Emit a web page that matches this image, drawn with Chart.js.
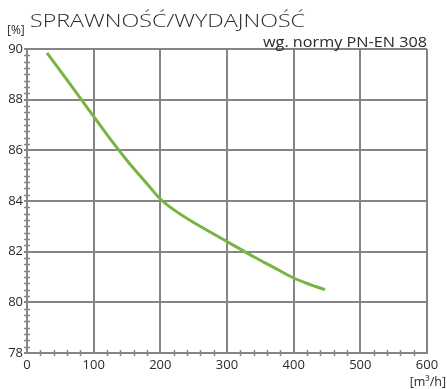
<!DOCTYPE html>
<html>
<head>
<meta charset="utf-8">
<script src="https://cdn.jsdelivr.net/npm/chart.js@4.4.1/dist/chart.umd.min.js"></script>
<style>
html,body{margin:0;padding:0;background:#fff;}
#wrap{width:447px;height:389px;position:relative;}
</style>
</head>
<body>
<div id="wrap"><canvas id="c" width="447" height="389"></canvas></div>
<script>
// Data
const flowValues = [30, 60, 90, 120, 150, 180, 200, 220, 250, 280, 310, 340, 370, 400, 425, 447];
const efficiency = [89.85, 88.78, 87.7, 86.62, 85.6, 84.68, 84.08, 83.66, 83.15, 82.7, 82.25, 81.8, 81.38, 80.96, 80.7, 80.5];
const xTicks = [0, 100, 200, 300, 400, 500, 600];
const yTicks = [78, 80, 82, 84, 86, 88, 90];
const titleText = 'SPRAWNOŚĆ/WYDAJNOŚĆ';
const subtitleText = 'wg. normy PN-EN 308';
const yUnit = '[%]';
const xUnit = '[m³/h]';

const GRID = '#858585';
const FONT = "'Open Sans', 'DejaVu Sans', sans-serif";

function fitText(ctx, text, x, y, width, align) {
  const m = ctx.measureText(text).width;
  const k = width / m;
  ctx.save();
  ctx.textAlign = 'left';
  const left = align === 'right' ? x - width : x;
  ctx.translate(left, y);
  ctx.scale(k, 1);
  ctx.fillText(text, 0, 0);
  ctx.restore();
}

const decor = {
  id: 'decor',
  afterDraw(chart) {
    const ctx = chart.ctx;
    const xs = chart.scales.x, ys = chart.scales.y;
    ctx.save();
    // minor ticks
    ctx.strokeStyle = GRID;
    ctx.lineWidth = 1.5;
    const yb = ys.getPixelForValue(78);
    for (let v = 20; v < 600; v += 20) {
      if (v % 100 === 0) continue;
      const px = Math.round(xs.getPixelForValue(v)) + 0.5;
      ctx.beginPath(); ctx.moveTo(px, yb - 3); ctx.lineTo(px, yb + 3); ctx.stroke();
    }
    const xl = xs.getPixelForValue(0);
    for (let v = 78.25; v < 90; v += 0.25) {
      if (Math.abs(v / 2 - Math.round(v / 2)) < 1e-6) continue;
      const py = Math.round(ys.getPixelForValue(v)) + 0.5;
      ctx.beginPath(); ctx.moveTo(xl - 3, py); ctx.lineTo(xl + 3, py); ctx.stroke();
    }
    // texts
    ctx.fillStyle = '#2a2a2a';
    ctx.textBaseline = 'alphabetic';
    ctx.font = '300 19px ' + FONT;
    fitText(ctx, titleText, 30, 27, 275, 'left');
    ctx.font = '12px ' + FONT;
    ctx.textAlign = 'left';
    ctx.fillText(yUnit, 7, 34);
    ctx.font = '14px ' + FONT;
    fitText(ctx, subtitleText, 427, 46.5, 164, 'right');
    ctx.font = '12.5px ' + FONT;
    ctx.textAlign = 'right';
    ctx.fillText(xUnit, 446, 386);
    ctx.restore();
  }
};

new Chart(document.getElementById('c'), {
  type: 'line',
  data: {
    datasets: [{
      data: flowValues.map((x, i) => ({x: x, y: efficiency[i]})),
      borderColor: '#78b443',
      borderWidth: 3,
      pointRadius: 0,
      fill: false,
      cubicInterpolationMode: 'monotone'
    }]
  },
  options: {
    responsive: false,
    animation: false,
    devicePixelRatio: 1,
    layout: {padding: {top: 49, right: 20, left: 0, bottom: 0}},
    plugins: {legend: {display: false}, tooltip: {enabled: false}},
    scales: {
      x: {
        type: 'linear', min: 0, max: 600,
        afterBuildTicks: s => { s.ticks = xTicks.map(v => ({value: v})); },
        afterFit: s => { s.height = 36; },
        grid: {color: GRID, lineWidth: 2, drawTicks: false},
        border: {color: GRID, width: 2},
        ticks: {padding: 4, color: '#2a2a2a', font: {family: FONT, size: 13}, maxRotation: 0, autoSkip: false}
      },
      y: {
        type: 'linear', min: 78, max: 90,
        afterBuildTicks: s => { s.ticks = yTicks.map(v => ({value: v})); },
        afterFit: s => { s.width = 27; },
        grid: {color: GRID, lineWidth: 2, tickLength: 3},
        border: {color: GRID, width: 2},
        ticks: {padding: 1, color: '#2a2a2a', font: {family: FONT, size: 13}, autoSkip: false}
      }
    }
  },
  plugins: [decor]
});
</script>
</body>
</html>
